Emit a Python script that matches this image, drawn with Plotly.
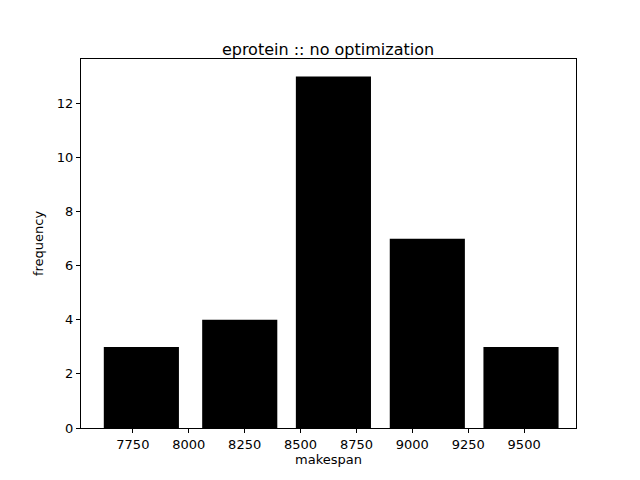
import plotly.graph_objects as go

bin_centers = [7788, 8228, 8647, 9067, 9486]
frequency = [3, 4, 13, 7, 3]
bin_width = 420

fig = go.Figure(go.Bar(
    x=bin_centers,
    y=frequency,
    width=[bin_width * 0.8] * len(bin_centers),
    marker=dict(color="black", line=dict(width=0)),
))

axis_style = dict(
    showgrid=False, zeroline=False, showline=True, linecolor="black", mirror=True,
    ticks="outside", ticklen=4, tickcolor="black",
    tickfont=dict(family="DejaVu Sans", size=13, color="black"),
)
fig.update_layout(
    width=640, height=480,
    plot_bgcolor="white", paper_bgcolor="white",
    margin=dict(l=73, r=72, t=51, b=60),
    title=dict(text="eprotein :: no optimization", x=0.5, xanchor="center", y=0.925,
               font=dict(family="DejaVu Sans", size=16, color="black")),
    showlegend=False,
    font=dict(family="DejaVu Sans", color="black"),
)
fig.update_xaxes(range=[7518, 9732], tickvals=[7750, 8000, 8250, 8500, 8750, 9000, 9250, 9500],
                 title=dict(text="makespan", font=dict(size=13), standoff=4), **axis_style)
fig.update_yaxes(range=[0, 13.65], tickvals=[0, 2, 4, 6, 8, 10, 12],
                 title=dict(text="frequency", font=dict(size=13), standoff=10), **axis_style)

fig.write_html("out.html")
